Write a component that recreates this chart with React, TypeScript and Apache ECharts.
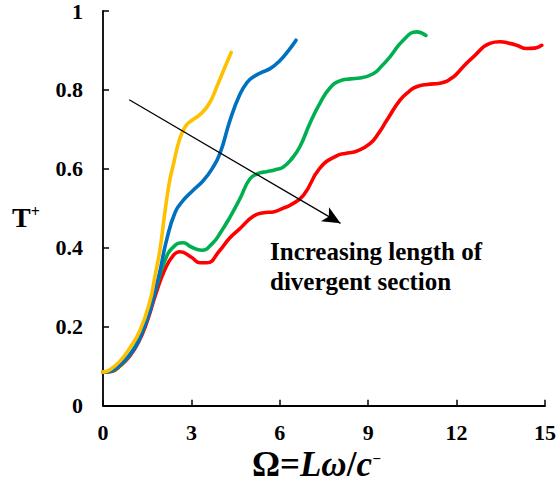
import React, { useEffect, useRef } from "react";
import * as echarts from "echarts";

const xTicks = [0, 3, 6, 9, 12, 15];
const yTicks = [0, 0.2, 0.4, 0.6, 0.8, 1];

const yellowX = [0, 0.25, 0.6, 0.9, 1.25, 1.6, 1.76, 1.93, 2.1, 2.25, 2.4, 2.6, 2.8, 3.0, 3.3, 3.6, 3.9, 4.15, 4.35];
const yellowY = [0.085, 0.092, 0.115, 0.145, 0.19, 0.267, 0.327, 0.394, 0.49, 0.565, 0.615, 0.675, 0.708, 0.722, 0.738, 0.765, 0.815, 0.86, 0.895];

const blueX = [0, 0.3, 0.6, 1.03, 1.3, 1.6, 1.9, 2.16, 2.45, 2.72, 3.06, 3.4, 3.7, 3.97, 4.31, 4.65, 4.9, 5.1, 5.4, 5.67, 6.0, 6.3, 6.55];
const blueY = [0.085, 0.089, 0.106, 0.141, 0.18, 0.242, 0.33, 0.42, 0.49, 0.52, 0.546, 0.57, 0.6, 0.639, 0.723, 0.79, 0.82, 0.833, 0.845, 0.854, 0.874, 0.9, 0.926];

const greenX = [0, 0.3, 0.6, 0.9, 1.2, 1.5, 1.8, 2.1, 2.4, 2.72, 3.0, 3.35, 3.7, 4.0, 4.31, 4.65, 4.99, 5.3, 5.55, 5.85, 6.12, 6.4, 6.68, 7.02, 7.36, 7.7, 8.04, 8.4, 8.72, 9.17, 9.45, 9.74, 10.19, 10.64, 10.96];
const greenY = [0.085, 0.088, 0.104, 0.128, 0.165, 0.222, 0.298, 0.368, 0.403, 0.413, 0.402, 0.394, 0.41, 0.44, 0.478, 0.525, 0.575, 0.589, 0.593, 0.598, 0.605, 0.625, 0.656, 0.715, 0.766, 0.805, 0.823, 0.828, 0.83, 0.841, 0.86, 0.884, 0.926, 0.947, 0.938];

const redX = [0, 0.3, 0.6, 0.9, 1.2, 1.5, 1.8, 2.1, 2.4, 2.61, 3.0, 3.29, 3.52, 3.97, 4.3, 4.65, 5.1, 5.45, 5.78, 6.1, 6.35, 6.8, 7.36, 7.93, 8.3, 8.61, 9.06, 9.35, 9.63, 10.08, 10.4, 10.64, 11.0, 11.44, 11.89, 12.2, 12.57, 13.13, 13.47, 13.8, 14.04, 14.38, 14.65, 14.89];
const redY = [0.085, 0.087, 0.102, 0.125, 0.16, 0.214, 0.285, 0.345, 0.382, 0.39, 0.376, 0.362, 0.362, 0.394, 0.425, 0.449, 0.48, 0.489, 0.491, 0.5, 0.508, 0.533, 0.602, 0.633, 0.64, 0.645, 0.664, 0.69, 0.723, 0.774, 0.797, 0.808, 0.814, 0.817, 0.833, 0.857, 0.884, 0.918, 0.922, 0.918, 0.913, 0.905, 0.906, 0.913];

const arrowStart = [0.89, 0.775];
const arrowEnd = [8.06, 0.462];

const annotationLines = ["Increasing length of", "divergent section"];

const zip = (xs: number[], ys: number[]) => xs.map((x, i) => [x, ys[i]]);

export default function App() {
  const ref = useRef<HTMLDivElement>(null);
  useEffect(() => {
    if (!ref.current) return;
    const chart = echarts.init(ref.current, null, { renderer: "svg" });
    const font = "'Liberation Serif', 'Times New Roman', serif";
    const mkSeries = (name: string, color: string, xs: number[], ys: number[]) => ({
      name,
      type: "line",
      data: zip(xs, ys),
      smooth: 0.5,
      showSymbol: false,
      symbol: "none",
      lineStyle: { color, width: 3.6, cap: "round" },
      z: 3,
    });
    chart.setOption({
      animation: false,
      backgroundColor: "#ffffff",
      grid: { left: 103, right: 15, top: 10.7, bottom: 88.3, containLabel: false },
      xAxis: {
        type: "value",
        min: xTicks[0],
        max: xTicks[xTicks.length - 1],
        interval: 3,
        splitLine: { show: false },
        axisLine: { show: true, lineStyle: { color: "#000", width: 1.8 } },
        axisTick: { show: true, inside: true, length: 6, lineStyle: { color: "#000", width: 1.5 } },
        axisLabel: {
          color: "#000",
          fontFamily: font,
          fontWeight: "bold",
          fontSize: 22,
          margin: 16,
        },
      },
      yAxis: {
        type: "value",
        min: yTicks[0],
        max: yTicks[yTicks.length - 1],
        interval: 0.2,
        splitLine: { show: false },
        axisLine: { show: true, lineStyle: { color: "#000", width: 1.8 } },
        axisTick: { show: true, inside: true, length: 6, lineStyle: { color: "#000", width: 1.5 } },
        axisLabel: {
          color: "#000",
          fontFamily: font,
          fontWeight: "bold",
          fontSize: 22,
          margin: 20,
        },
      },
      series: [
        {
          ...mkSeries("red", "#FF0000", redX, redY),
          markLine: {
            silent: true,
            symbol: ["none", "arrow"],
            symbolSize: [12, 18],
            label: { show: false },
            lineStyle: { color: "#000", width: 1.3, type: "solid" },
            data: [
              [
                { coord: arrowStart, symbol: "none" },
                { coord: arrowEnd, symbol: "arrow" },
              ],
            ],
            z: 5,
          },
        },
        mkSeries("green", "#00B050", greenX, greenY),
        mkSeries("blue", "#0070C0", blueX, blueY),
        mkSeries("yellow", "#FFC000", yellowX, yellowY),
      ],
      graphic: [
        {
          type: "text",
          left: 12,
          top: 203,
          style: {
            text: "{t|T}{s|+}",
            rich: {
              t: { fontFamily: font, fontWeight: "bold", fontSize: 28, fill: "#000" },
              s: { fontFamily: font, fontWeight: "bold", fontSize: 16, fill: "#000", verticalAlign: "top", padding: [0, 0, 12, 0] },
            },
          },
        },
        {
          type: "text",
          left: 270,
          top: 239,
          style: {
            text: annotationLines[0],
            fontFamily: font,
            fontWeight: "bold",
            fontSize: 25,
            fill: "#000",
          },
        },
        {
          type: "text",
          left: 270,
          top: 269,
          style: {
            text: annotationLines[1],
            fontFamily: font,
            fontWeight: "bold",
            fontSize: 25,
            fill: "#000",
          },
        },
        {
          type: "text",
          left: 252,
          top: 447,
          style: {
            text: "{a|Ω=}{i|Lω}{a|/}{i|c}{s|⁻}",
            rich: {
              a: { fontFamily: font, fontWeight: "bold", fontSize: 35, fill: "#000" },
              i: { fontFamily: font, fontWeight: "bold", fontStyle: "italic", fontSize: 35, fill: "#000" },
              s: { fontFamily: "'DejaVu Serif', serif", fontWeight: "bold", fontSize: 18, fill: "#000", padding: [0, 0, 8, 0] },
            },
          },
        },
      ],
    });
    return () => chart.dispose();
  }, []);
  return <div ref={ref} style={{ position: "absolute", left: 0, top: 0, width: 560, height: 494 }} />;
}
